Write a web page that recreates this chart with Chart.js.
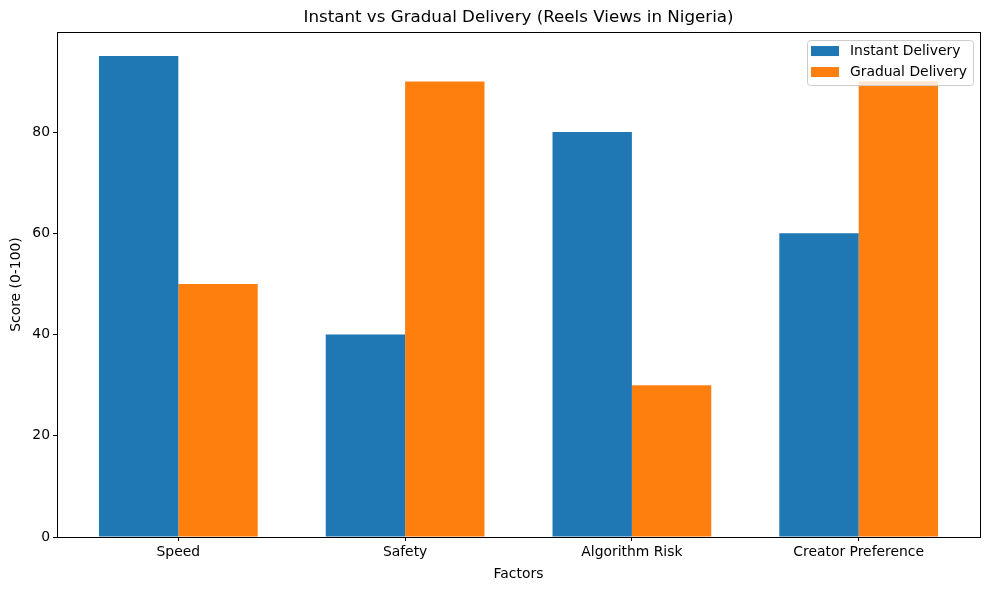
<!DOCTYPE html>
<html>
<head>
<meta charset="utf-8">
<script src="https://cdn.jsdelivr.net/npm/chart.js@4"></script>
<style>
  html, body { margin: 0; padding: 0; background: #fff; }
  #wrap { width: 989px; height: 590px; }
</style>
</head>
<body>
<div id="wrap"><canvas id="myChart" width="989" height="590"></canvas></div>
<script>
// Skor faktor pengiriman
const faktor = ['Speed', 'Safety', 'Algorithm Risk', 'Creator Preference'];
const instant = [95, 40, 80, 60];
const gradual = [50, 90, 30, 90];
const yTicks = [0, 20, 40, 60, 80];

const FONT = 'DejaVu Sans';
const FS = 13.9; // ukuran huruf label
Chart.defaults.font.family = FONT;
Chart.defaults.color = '#000';

// kotak penuh di sekitar area plot (spine atas & kanan)
const frame = {
  id: 'frame',
  afterDatasetsDraw(chart) {
    const { ctx, chartArea: a } = chart;
    ctx.save();
    ctx.strokeStyle = '#000';
    ctx.lineWidth = 1;
    ctx.strokeRect(Math.round(a.left) + 0.5, Math.round(a.top) + 0.5,
      Math.round(a.right - a.left), Math.round(a.bottom - a.top));
    ctx.restore();
  }
};

// legenda di dalam area plot, kanan atas
const legendBox = {
  id: 'legendBox',
  afterDraw(chart) {
    const { ctx, chartArea: a } = chart;
    const sets = chart.data.datasets;
    const w = 166, h = 45;
    const x = a.right - 7 - w, y = a.top + 8;
    ctx.save();
    ctx.fillStyle = 'rgba(255,255,255,0.8)';
    ctx.strokeStyle = '#cccccc';
    ctx.lineWidth = 1;
    ctx.beginPath();
    ctx.roundRect(x + 0.5, y + 0.5, w, h, 3);
    ctx.fill();
    ctx.stroke();
    ctx.font = FS + 'px "' + FONT + '"';
    ctx.textBaseline = 'middle';
    sets.forEach((ds, i) => {
      const ry = y + 11 + i * 21;
      ctx.fillStyle = ds.backgroundColor;
      ctx.fillRect(x + 4, ry - 5, 28, 10);
      ctx.fillStyle = '#000';
      ctx.fillText(ds.label, x + 43, ry);
    });
    ctx.restore();
  }
};

new Chart(document.getElementById('myChart'), {
  type: 'bar',
  data: {
    datasets: [{
      label: 'Instant Delivery',
      data: faktor.map((f, i) => ({ x: i, y: instant[i] })),
      backgroundColor: '#1f77b4',
      borderWidth: 0
    }, {
      label: 'Gradual Delivery',
      data: faktor.map((f, i) => ({ x: i, y: gradual[i] })),
      backgroundColor: '#ff7f0e',
      borderWidth: 0
    }]
  },
  options: {
    responsive: false,
    animation: false,
    layout: { padding: { left: 0, right: 9, top: 0, bottom: 0 } },
    datasets: { bar: { categoryPercentage: 0.7, barPercentage: 1.0 } },
    plugins: {
      legend: { display: false },
      tooltip: { enabled: false },
      title: {
        display: true,
        fullSize: false,
        text: 'Instant vs Gradual Delivery (Reels Views in Nigeria)',
        font: { size: 16.7, weight: 'normal' },
        padding: { top: 8, bottom: 4 }
      }
    },
    scales: {
      x: {
        type: 'linear',
        min: -0.535,
        max: 3.535,
        offset: false,
        afterFit(s) { s.height = 53; },
        grid: { offset: false, drawOnChartArea: false, drawTicks: true, tickLength: 4, color: '#000' },
        border: { color: '#000', width: 1 },
        ticks: {
          stepSize: 1,
          includeBounds: false,
          padding: 3,
          font: { size: FS },
          callback: v => faktor[v] !== undefined ? faktor[v] : ''
        },
        title: { display: true, text: 'Factors', font: { size: FS }, padding: { top: 0, bottom: 7 } }
      },
      y: {
        min: 0,
        max: 99.75,
        afterFit(s) { s.width = 57; },
        afterBuildTicks(s) { s.ticks = yTicks.map(v => ({ value: v })); },
        grid: { drawOnChartArea: false, drawTicks: true, tickLength: 4, color: '#000' },
        border: { color: '#000', width: 1 },
        ticks: { padding: 3, font: { size: FS } },
        title: { display: true, text: 'Score (0-100)', font: { size: FS }, padding: { top: 8, bottom: 0 } }
      }
    }
  },
  plugins: [frame, legendBox]
});
</script>
</body>
</html>
